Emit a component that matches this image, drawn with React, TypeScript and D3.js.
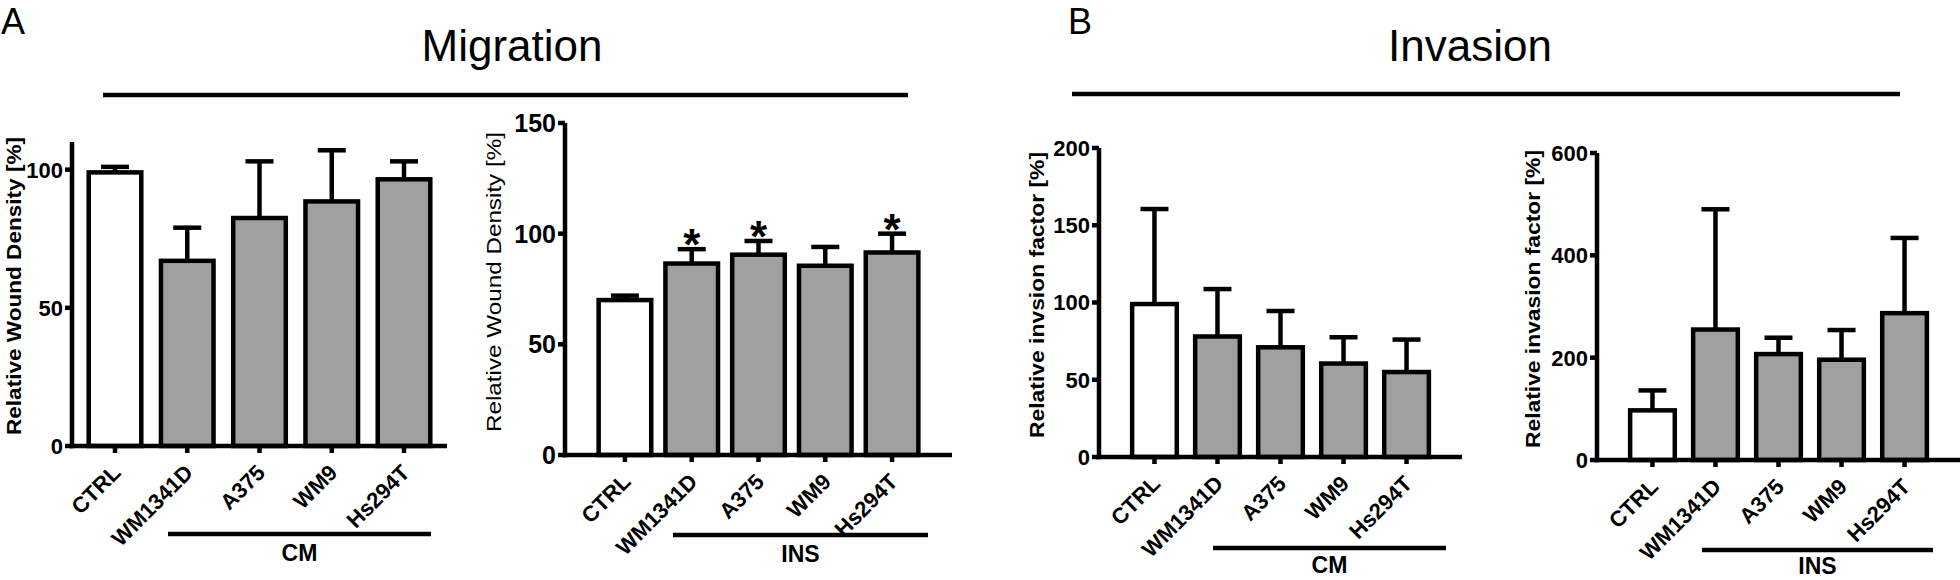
import React from "react";
import * as d3 from "d3";

const categories = ["CTRL", "WM1341D", "A375", "WM9", "Hs294T"];

const migrationCMMean = [99, 67, 82.5, 88.5, 96.5];
const migrationCMErr = [2, 12, 20.5, 18.5, 6.5];
const migrationCMTicks = [0, 50, 100];

const migrationINSMean = [70, 86.5, 90.5, 85.5, 91.5];
const migrationINSErr = [2, 6.5, 6.2, 8.5, 8.5];
const migrationINSStars = [false, true, true, false, true];
const migrationINSTicks = [0, 50, 100, 150];

const invasionCMMean = [99, 78, 71, 60.5, 55];
const invasionCMErr = [61.5, 30.7, 23.5, 17, 21];
const invasionCMTicks = [0, 50, 100, 150, 200];

const invasionINSMean = [97, 255, 207, 196, 287];
const invasionINSErr = [39, 235, 32, 58, 147];
const invasionINSTicks = [0, 200, 400, 600];

const FONT = "'Liberation Sans', Arial, Helvetica, sans-serif";
const GRAY = "#a0a0a0";
const SW = 4.5;

type Cfg = {
  x0: number; x1: number; y0: number; yTop: number; max: number;
  pi: number; po: number;
  mean: number[]; err: number[]; stars?: boolean[]; ticks: number[];
  ylabel: string; ylx: number; yly: number; yll: number; ylBold: boolean;
  tickFs: number;
  group: string; gx1: number; gx2: number; gy: number; gty: number;
};

function Panel({ c }: { c: Cfg }) {
  const x = d3.scaleBand<string>().domain(categories).range([c.x0, c.x1]).paddingInner(c.pi).paddingOuter(c.po);
  const y = d3.scaleLinear().domain([0, c.max]).range([c.y0, c.yTop]);
  const bw = x.bandwidth();
  return (
    <g>
      {categories.map((cat, i) => {
        const cx = (x(cat) as number) + bw / 2;
        const top = y(c.mean[i]);
        const capY = y(c.mean[i] + c.err[i]);
        return (
          <g key={cat}>
            <line x1={cx} x2={cx} y1={top} y2={capY} stroke="#000" strokeWidth={SW} />
            <line x1={cx - 14} x2={cx + 14} y1={capY} y2={capY} stroke="#000" strokeWidth={SW} />
            <rect x={(x(cat) as number) + SW / 2} width={bw - SW} y={top} height={c.y0 - top}
              fill={i === 0 ? "#fff" : GRAY} stroke="#000" strokeWidth={SW} />
            {c.stars && c.stars[i] ? (
              <text x={cx} y={capY + 11} textAnchor="middle" fontFamily={FONT} fontWeight="bold" fontSize={44}>*</text>
            ) : null}
          </g>
        );
      })}
      {/* y axis */}
      <line x1={c.x0} x2={c.x0} y1={c.y0 + SW / 2} y2={c.yTop} stroke="#000" strokeWidth={SW} />
      {c.ticks.map((t) => (
        <g key={t}>
          <line x1={c.x0 - 7} x2={c.x0} y1={y(t)} y2={y(t)} stroke="#000" strokeWidth={SW} />
          <text x={c.x0 - 9} y={y(t)} dy="0.36em" textAnchor="end" fontFamily={FONT} fontWeight="bold" fontSize={c.tickFs}>{t}</text>
        </g>
      ))}
      {/* x axis */}
      <line x1={c.x0 - SW / 2} x2={c.x1} y1={c.y0} y2={c.y0} stroke="#000" strokeWidth={SW} />
      {categories.map((cat) => {
        const cx = (x(cat) as number) + bw / 2;
        return (
          <g key={"t" + cat}>
            <line x1={cx} x2={cx} y1={c.y0} y2={c.y0 + 7} stroke="#000" strokeWidth={SW} />
            <text transform={`translate(${cx + 7},${c.y0 + 28}) rotate(-45)`} textAnchor="end"
              fontFamily={FONT} fontWeight="bold" fontSize={22}>{cat}</text>
          </g>
        );
      })}
      {/* y label */}
      <text transform={`translate(${c.ylx},${c.yly}) rotate(-90)`} textAnchor="middle" dy="0.35em"
        fontFamily={FONT} fontWeight={c.ylBold ? "bold" : "normal"} fontSize={21}
        textLength={c.yll} lengthAdjust="spacingAndGlyphs">{c.ylabel}</text>
      {/* group */}
      <line x1={c.gx1} x2={c.gx2} y1={c.gy} y2={c.gy} stroke="#000" strokeWidth={SW} />
      <text x={(c.gx1 + c.gx2) / 2} y={c.gty} textAnchor="middle" fontFamily={FONT} fontWeight="bold" fontSize={23}>{c.group}</text>
    </g>
  );
}

const panels: Cfg[] = [
  {
    x0: 72, x1: 447, y0: 446, yTop: 142, max: 110, pi: 0.21, po: 0.2,
    mean: migrationCMMean, err: migrationCMErr, ticks: migrationCMTicks,
    ylabel: "Relative Wound Density [%]", ylx: 14, yly: 286, yll: 298, ylBold: true, tickFs: 22,
    group: "CM", gx1: 168, gx2: 431, gy: 534, gty: 561,
  },
  {
    x0: 565, x1: 952, y0: 455, yTop: 123, max: 150, pi: 0.145, po: 0.47,
    mean: migrationINSMean, err: migrationINSErr, stars: migrationINSStars, ticks: migrationINSTicks,
    ylabel: "Relative Wound Density [%]", ylx: 494, yly: 282, yll: 300, ylBold: false, tickFs: 25,
    group: "INS", gx1: 673, gx2: 928, gy: 535, gty: 562,
  },
  {
    x0: 1099, x1: 1462, y0: 457, yTop: 148, max: 200, pi: 0.22, po: 0.49,
    mean: invasionCMMean, err: invasionCMErr, ticks: invasionCMTicks,
    ylabel: "Relative invsion factor [%]", ylx: 1037, yly: 295, yll: 286, ylBold: true, tickFs: 22,
    group: "CM", gx1: 1213, gx2: 1446, gy: 548, gty: 573,
  },
  {
    x0: 1597, x1: 1960, y0: 460, yTop: 153, max: 600, pi: 0.22, po: 0.49,
    mean: invasionINSMean, err: invasionINSErr, ticks: invasionINSTicks,
    ylabel: "Relative invasion factor [%]", ylx: 1533, yly: 299, yll: 298, ylBold: true, tickFs: 22,
    group: "INS", gx1: 1702, gx2: 1933, gy: 550, gty: 574,
  },
];

export default function App() {
  return (
    <svg width={1960} height={580} viewBox="0 0 1960 580"
      style={{ position: "absolute", left: 0, top: 0, background: "#fff" }}>
      <rect width={1960} height={580} fill="#fff" />
      <text x={1} y={34} fontFamily={FONT} fontSize={36}>A</text>
      <text x={512} y={61} textAnchor="middle" fontFamily={FONT} fontSize={44}>Migration</text>
      <line x1={103} x2={908} y1={95} y2={95} stroke="#000" strokeWidth={SW} />
      <text x={1068} y={34} fontFamily={FONT} fontSize={36}>B</text>
      <text x={1470} y={61} textAnchor="middle" fontFamily={FONT} fontSize={44}>Invasion</text>
      <line x1={1072} x2={1900} y1={94} y2={94} stroke="#000" strokeWidth={SW} />
      {panels.map((p, i) => <Panel key={i} c={p} />)}
    </svg>
  );
}
